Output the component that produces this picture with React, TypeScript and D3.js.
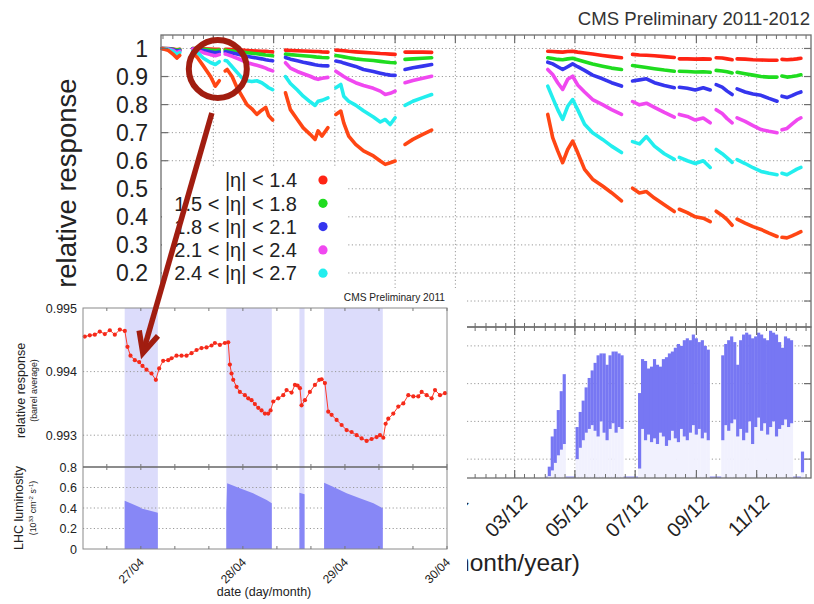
import React from 'react';
import * as d3 from 'd3';

const FONT = "'Liberation Sans', Arial, Helvetica, sans-serif";

// ---------- main chart data (day numbers counted from 2011-01-01) ----------
const segLengths = [5, 6, 12, 9, 11, 4, 12, 6, 5, 4, 6, 5];
const sampleDays = [
  68, 74, 79, 83, 86,
  99, 104, 110, 117, 122, 126,
  132, 134, 139, 144, 149, 154, 159, 164, 169, 173, 176, 180,
  193, 198, 205, 211, 218, 223, 226, 230, 236,
  244, 249, 252, 257, 264, 272, 282, 289, 294, 299, 304,
  314, 322, 332, 341,
  458.5, 463.5, 468.6, 473.6, 478.7, 483.7, 488.8, 495.8, 503.9, 514, 523.1, 533.2,
  544.3, 551.3, 558.4, 566.5, 576.5, 586.6,
  591.7, 599.8, 607.8, 615.9, 623,
  629, 635.1, 640.1, 645.2,
  650.2, 658.3, 666.3, 674.4, 682.5, 690.6,
  695.6, 700.7, 705.7, 710.7, 714.8,
];
const respEta00_14 = [
  1.0, 1.0, 0.998, 0.995, 0.997,
  1.0, 1.0, 0.999, 0.998, 0.997, 0.997,
  0.997, 0.997, 0.996, 0.995, 0.994, 0.993, 0.992, 0.991, 0.99, 0.99, 0.989, 0.988,
  0.994, 0.993, 0.992, 0.991, 0.99, 0.989, 0.989, 0.988, 0.987,
  0.994, 0.993, 0.992, 0.99, 0.988, 0.986, 0.984, 0.982, 0.981, 0.98, 0.979,
  0.987, 0.987, 0.987, 0.986,
  0.99, 0.989, 0.988, 0.987, 0.989, 0.99, 0.987, 0.984, 0.98, 0.975, 0.971, 0.967,
  0.979, 0.977, 0.976, 0.974, 0.971, 0.968,
  0.963, 0.963, 0.962, 0.963, 0.962,
  0.967, 0.966, 0.963, 0.96,
  0.963, 0.962, 0.96, 0.959, 0.958, 0.958,
  0.961, 0.96, 0.961, 0.963, 0.965,
];
const respEta15_18 = [
  1.0, 0.999, 0.997, 0.994, 0.996,
  1.0, 0.999, 0.997, 0.994, 0.993, 0.994,
  0.994, 0.993, 0.991, 0.989, 0.987, 0.985, 0.983, 0.981, 0.979, 0.977, 0.976, 0.974,
  0.98, 0.978, 0.976, 0.974, 0.972, 0.97, 0.969, 0.968, 0.967,
  0.975, 0.972, 0.97, 0.967, 0.963, 0.96, 0.957, 0.954, 0.952, 0.95, 0.949,
  0.961, 0.963, 0.965, 0.967,
  0.967, 0.964, 0.961, 0.96, 0.963, 0.965, 0.96, 0.953, 0.945, 0.937, 0.93, 0.925,
  0.939, 0.936, 0.932, 0.928, 0.923, 0.919,
  0.919, 0.918, 0.916, 0.917, 0.915,
  0.922, 0.92, 0.917, 0.913,
  0.915, 0.91, 0.905, 0.9, 0.898, 0.898,
  0.902, 0.898, 0.9, 0.903, 0.906,
];
const respEta18_21 = [
  1.0, 0.999, 0.996, 0.99, 0.993,
  0.999, 0.997, 0.993, 0.988, 0.985, 0.987,
  0.988, 0.987, 0.984, 0.98, 0.976, 0.972, 0.969, 0.966, 0.963, 0.96, 0.958, 0.956,
  0.968, 0.962, 0.956, 0.951, 0.946, 0.942, 0.94, 0.939, 0.938,
  0.955, 0.952, 0.948, 0.943, 0.936, 0.925, 0.918, 0.912, 0.908, 0.905, 0.904,
  0.925, 0.931, 0.937, 0.943,
  0.951, 0.945, 0.935, 0.925, 0.935, 0.945, 0.935, 0.922, 0.905, 0.892, 0.878, 0.866,
  0.884, 0.888, 0.892, 0.878, 0.868, 0.86,
  0.862, 0.858, 0.852, 0.86, 0.852,
  0.871, 0.862, 0.848, 0.836,
  0.856, 0.845, 0.838, 0.833, 0.822, 0.812,
  0.83, 0.825, 0.832, 0.84, 0.845,
];
const respEta21_24 = [
  1.0, 0.998, 0.994, 0.985, 0.99,
  0.998, 0.993, 0.985, 0.978, 0.974, 0.978,
  0.98, 0.978, 0.972, 0.965, 0.958, 0.95, 0.945, 0.94, 0.935, 0.93, 0.925, 0.92,
  0.949, 0.93, 0.918, 0.91, 0.901, 0.893, 0.89, 0.894, 0.897,
  0.919, 0.907, 0.9, 0.89, 0.878, 0.868, 0.858, 0.848, 0.836, 0.84, 0.848,
  0.878, 0.886, 0.894, 0.901,
  0.925, 0.907, 0.878, 0.854, 0.89, 0.901, 0.87, 0.845, 0.818, 0.8, 0.782, 0.765,
  0.811, 0.799, 0.805, 0.79, 0.772, 0.755,
  0.765, 0.758, 0.745, 0.752, 0.735,
  0.782, 0.768, 0.75, 0.735,
  0.753, 0.74, 0.725, 0.711, 0.705, 0.7,
  0.71, 0.715, 0.73, 0.745, 0.753,
];
const respEta24_27 = [
  1.0, 0.997, 0.99, 0.978, 0.985,
  0.99, 0.985, 0.965, 0.95, 0.943, 0.953,
  0.957, 0.955, 0.935, 0.915, 0.895, 0.885, 0.882, 0.885, 0.878, 0.868, 0.86, 0.853,
  0.9, 0.875, 0.852, 0.83, 0.81, 0.797, 0.812, 0.815, 0.824,
  0.86, 0.872, 0.83, 0.812, 0.798, 0.778, 0.756, 0.738, 0.747, 0.729, 0.753,
  0.797, 0.812, 0.825, 0.836,
  0.866, 0.824, 0.782, 0.747, 0.794, 0.818, 0.782, 0.73, 0.7, 0.676, 0.652, 0.629,
  0.668, 0.66, 0.686, 0.652, 0.625, 0.605,
  0.612, 0.6, 0.59, 0.6, 0.576,
  0.64, 0.625, 0.61, 0.594,
  0.604, 0.59, 0.575, 0.562, 0.555, 0.55,
  0.555, 0.55, 0.56, 0.57, 0.576,
];
const respEta27_30 = [
  1.0, 0.994, 0.98, 0.966, 0.975,
  0.985, 0.967, 0.937, 0.901, 0.866, 0.885,
  0.92, 0.925, 0.9, 0.86, 0.83, 0.8, 0.785, 0.765, 0.78, 0.79, 0.76, 0.745,
  0.842, 0.782, 0.747, 0.717, 0.694, 0.676, 0.706, 0.688, 0.718,
  0.765, 0.777, 0.735, 0.688, 0.658, 0.635, 0.617, 0.599, 0.587, 0.593, 0.599,
  0.658, 0.676, 0.694, 0.709,
  0.765, 0.682, 0.635, 0.593, 0.64, 0.67, 0.629, 0.569, 0.534, 0.51, 0.486, 0.457,
  0.502, 0.485, 0.49, 0.467, 0.443, 0.419,
  0.427, 0.415, 0.4, 0.395, 0.383,
  0.42, 0.405, 0.39, 0.37,
  0.392, 0.378, 0.365, 0.355, 0.342, 0.33,
  0.327, 0.325, 0.332, 0.34, 0.347,
];
const seriesNames = ['|η| < 1.4', '1.5 < |η| < 1.8', '1.8 < |η| < 2.1', '2.1 < |η| < 2.4', '2.4 < |η| < 2.7', '2.7 < |η| < 3.0'];
const seriesColors = ['#ff2414', '#1fdc1f', '#3535ee', '#f048f0', '#22eeee', '#ff4614'];
const seriesValues = [respEta00_14, respEta15_18, respEta18_21, respEta21_24, respEta24_27, respEta27_30];
const responseTicks = [1, 0.9, 0.8, 0.7, 0.6, 0.5, 0.4, 0.3, 0.2, 0.1];
const lumiGrid = [1, 3, 5, 7];

// LHC luminosity 2012 (10^33 cm^-2 s^-1), peak and end-of-fill per sample day
const lumiDays = [
  458.5, 461.5, 464.5, 467.6, 470.6, 473.6,
  486.7, 489.8, 492.8, 495.8, 498.9, 501.9, 504.9, 507.9, 510.9, 514.0, 517.0, 520.0, 523.1, 526.1, 529.1, 532.1,
  549.9, 552.9, 555.9, 558.9, 562.0, 565.0, 568.0, 571.0, 574.0, 577.1, 580.1, 583.1, 586.1, 589.2, 592.2, 595.2, 598.2, 601.3, 604.3, 607.3, 610.3, 613.4, 616.4, 619.4,
  634.1, 637.1, 640.1, 643.1, 646.2, 649.2, 652.2, 655.2, 658.3, 661.3, 664.3, 667.4, 670.4, 673.4, 676.4, 679.5, 682.5, 685.5, 688.5, 691.6, 694.6, 697.6, 700.7, 703.7,
  714.8,
];
const lumiHigh = [
  0.6, 2.2, 2.6, 3.6, 4.6, 5.5,
  2.7, 3.5, 4.1, 4.8, 5.3, 5.7, 6.1, 6.5, 6.6, 6.6, 6.0, 6.5, 6.7, 6.7, 6.6, 6.5,
  4.5, 6.3, 6.2, 5.8, 5.9, 6.3, 6.0, 5.9, 6.3, 6.4, 6.6, 6.7, 6.9, 7.1, 7.0, 7.3, 7.4, 7.3, 7.6, 7.4, 7.2, 7.3, 7.0, 6.8,
  6.5, 7.1, 7.3, 7.5, 7.2, 6.0, 7.3, 7.6, 7.7, 7.6, 7.4, 7.5, 7.7, 7.6, 7.4, 7.3, 7.8, 7.7, 7.6, 7.2, 6.9, 7.5, 7.4, 7.3,
  1.4,
];
const lumiLow = [
  0.1, 0.4, 0.8, 1.2, 1.5, 1.8,
  1.0, 1.6, 2.0, 2.4, 2.6, 2.8, 2.5, 2.2, 3.0, 2.4, 2.0, 2.6, 2.9, 2.4, 2.7, 2.6,
  0.5, 2.6, 2.0, 2.3, 1.9, 2.1, 1.8, 2.4, 2.2, 1.7, 2.0, 2.5, 2.1, 1.9, 2.6, 2.2, 2.0, 2.4, 2.8, 2.3, 2.6, 2.1, 2.4, 2.0,
  2.0, 2.8, 2.5, 2.9, 3.1, 2.2, 2.6, 2.0, 2.4, 3.0, 1.8, 2.7, 3.2, 2.5, 2.9, 2.3, 2.7, 3.0, 2.2, 2.6, 2.8, 3.1, 2.7, 2.9,
  0.3,
];

// ---------- inset data (hours from 27/04 00:00) ----------
const insetHours = [
  -13.18, -12.0, -10.82, -9.65, -8.47, -7.29, -6.12, -4.94, -3.76, -3.14, -2.43, -1.41, -0.39, 0.39, 1.33, 2.51, 3.53,
  4.31, 5.25, 6.43, 7.22, 8.39, 9.57, 10.75, 11.92, 13.1, 14.27, 15.45, 16.63, 17.41, 18.59, 19.76, 20.55,
  20.94, 21.33, 21.73, 22.51, 23.29, 24.47, 25.25, 26.04, 26.82, 27.61, 28.39, 29.18, 29.96, 30.51,
  31.14, 32.31, 33.49, 34.27, 35.45, 36.24, 36.86, 37.41, 37.8, 38.59, 39.76, 40.94, 41.96, 42.51, 43.29,
  44.08, 44.86, 46.04, 47.22, 48.39, 49.57, 50.75, 51.92, 53.1, 54.27, 55.45, 56.24, 57.02,
  57.57, 58.2, 59.37, 60.55, 61.73, 62.9, 64.08, 65.25, 66.04, 67.22, 68.39, 69.18, 70.35, 71.53,
];
const insetResponse = [
  0.99455, 0.99457, 0.99458, 0.99463, 0.99459, 0.99465, 0.99458, 0.99466, 0.99464, 0.99439, 0.99425, 0.99418, 0.99415, 0.99409, 0.99403, 0.99397, 0.99387,
  0.99405, 0.99417, 0.99418, 0.99421, 0.99425, 0.99425, 0.99425, 0.99429, 0.99434, 0.99437, 0.99438, 0.99441, 0.99445, 0.99442, 0.99445, 0.99446,
  0.99411, 0.99397, 0.99387, 0.99376, 0.99368, 0.99363, 0.99358, 0.99355, 0.99349, 0.99343, 0.99339, 0.99334, 0.99334, 0.99339,
  0.99353, 0.99358, 0.99363, 0.99371, 0.99367, 0.99379, 0.99378, 0.99374, 0.99347, 0.99355, 0.99368, 0.99379, 0.99387, 0.99388, 0.99382,
  0.99337, 0.99332, 0.99324, 0.99316, 0.99308, 0.99305, 0.993, 0.99295, 0.99291, 0.99294, 0.99297, 0.993, 0.99296,
  0.99318, 0.99326, 0.99334, 0.99345, 0.9935, 0.99363, 0.99361, 0.99361, 0.99368, 0.99363, 0.99358, 0.99371, 0.99363, 0.99366,
];
const fillStartH = [-3.8, 20.1, 37.3, 43.1];
const fillEndH = [4.0, 30.8, 38.5, 56.9];
const insetLumiLengths = [6, 6, 2, 6];
const insetLumiHours = [-3.8, -2, -0.24, 0.16, 2, 4.0, 20.1, 20.3, 23.3, 26.4, 29.6, 30.8, 37.3, 38.5, 43.1, 45.2, 48.4, 51.5, 54.7, 56.9];
const insetLumiVals = [0.47, 0.44, 0.407, 0.395, 0.375, 0.354, 0.36, 0.641, 0.592, 0.543, 0.478, 0.446, 0.55, 0.535, 0.647, 0.608, 0.543, 0.494, 0.446, 0.397];
const insetRespTicks = [0.995, 0.994, 0.993];
const insetLumiTicks = [0, 0.2, 0.4, 0.6, 0.8];
const insetDayLabels = ['27/04', '28/04', '29/04', '30/04'];
const insetDayHours = [0, 24, 48, 72];

const DAY0 = Date.UTC(2011, 0, 1);
const toDate = (d: number) => new Date(DAY0 + d * 864e5);

export default function App() {
  // main chart scales
  const x = d3.scaleUtc().domain([toDate(67), toDate(725)]).range([161, 811]);
  const y = d3.scaleLinear().domain([0.011, 1.048]).range([326, 35]);
  const yL = d3.scaleLinear().domain([0, 8]).range([478, 327]);
  const L = 161, R = 811, T = 35, B1 = 327, B2 = 478;

  const majorTicks = x.ticks(d3.utcMonth.every(2) as any);
  const minorTicks = d3.utcDay.range(toDate(67), toDate(725)).filter(d => [1, 11, 21].includes(d.getUTCDate()));
  const fmt = d3.utcFormat('%m/%y');

  let pos = 0;
  const segs = segLengths.map(n => { const s = [pos, pos + n]; pos += n; return s; });
  const line = d3.line<[number, number]>().x(d => d[0]).y(d => d[1]);

  // inset scales
  const xi = d3.scaleLinear().domain([-13.6, 72]).range([83, 447]);
  const yi = d3.scaleLinear().domain([0.9925, 0.995]).range([467, 308]);
  const yli = d3.scaleLinear().domain([0, 0.8]).range([549, 467]);
  const iL = 83, iR = 447, iT = 308, iM = 467, iB = 549;
  let p2 = 0;
  const lumiSegs = insetLumiLengths.map(n => { const s = [p2, p2 + n]; p2 += n; return s; });
  const area = d3.area<number>().x(i => xi(insetLumiHours[i])).y0(yli(0)).y1(i => yli(insetLumiVals[i]));
  const insetLine = d3.line<number>().x(i => xi(insetHours[i])).y(i => yi(insetResponse[i]));
  const insetIdx = insetHours.map((_, i) => i);
  const insetMinor = d3.range(-8, 73, 8);

  // annotation anchors (data coordinates)
  const circX = x(toDate(124.5)), circY = y(0.927);
  const arrStart: [number, number] = [x(toDate(118.5)), y(0.77)];
  const arrTip: [number, number] = [xi(0.47), yi(0.99429)];
  const dx = arrStart[0] - arrTip[0], dy = arrStart[1] - arrTip[1];
  const len = Math.hypot(dx, dy);
  const ux = dx / len, uy = dy / len;
  const rot = (a: number) => [ux * Math.cos(a) - uy * Math.sin(a), ux * Math.sin(a) + uy * Math.cos(a)];
  const w1 = rot(0.44), w2 = rot(-0.44);
  const head = `M${arrTip[0] + 23 * w1[0]},${arrTip[1] + 23 * w1[1]}L${arrTip[0]},${arrTip[1]}L${arrTip[0] + 23 * w2[0]},${arrTip[1] + 23 * w2[1]}`;

  const gridStyle = { stroke: '#9a9a9a', strokeWidth: 1, strokeDasharray: '1.2,2.4' };
  const frame = '#6e6e6e';
  const barW = (x(toDate(3)) - x(toDate(0))) + 0.2;

  return (
    <svg width={814} height={604} style={{ display: 'block', position: 'absolute', left: 0, top: 0, background: '#fff' }} fontFamily={FONT}>
      <rect x={0} y={0} width={814} height={604} fill="#fff" />
      {/* ---------------- main chart ---------------- */}
      <text x={810} y={25} textAnchor="end" fontSize={18.6} fill="#333">CMS Preliminary 2011-2012</text>
      {/* grid */}
      {majorTicks.map((d, i) => (
        <line key={'vg' + i} x1={x(d)} x2={x(d)} y1={T} y2={B2} {...gridStyle} />
      ))}
      {responseTicks.map((v, i) => (
        <line key={'hg' + i} x1={L} x2={R} y1={y(v)} y2={y(v)} {...gridStyle} />
      ))}
      {lumiGrid.map((v, i) => (
        <line key={'lg' + i} x1={L} x2={R} y1={yL(v)} y2={yL(v)} {...gridStyle} />
      ))}
      {/* luminosity 2012 */}
      <line x1={x(toDate(456))} x2={x(toDate(718))} y1={yL(0.05)} y2={yL(0.05)} stroke="#8a8af5" strokeWidth={1.2} />
      {lumiDays.map((d, i) => (
        <rect key={'ll' + i} x={x(toDate(d))} width={barW} y={yL(lumiLow[i])} height={yL(0) - yL(lumiLow[i])} fill="#f1f1fe" />
      ))}
      {lumiDays.map((d, i) => (
        <rect key={'lh' + i} x={x(toDate(d))} width={barW} y={yL(lumiHigh[i])} height={yL(lumiLow[i]) - yL(lumiHigh[i])} fill="#7777f3" />
      ))}
      {/* response series */}
      {seriesValues.map((vals, si) => (
        <g key={'s' + si}>
          {segs.map(([a, b], k) => (
            <path key={k}
              d={line(sampleDays.slice(a, b).map((d, j) => [x(toDate(d)), y(vals[a + j])] as [number, number])) || ''}
              fill="none" stroke={seriesColors[si]} strokeWidth={3.6} strokeLinejoin="round" strokeLinecap="round" />
          ))}
        </g>
      ))}
      {/* frames */}
      <rect x={L} y={T} width={R - L} height={B1 - T} fill="none" stroke={frame} strokeWidth={1.3} />
      <rect x={L} y={B1} width={R - L} height={B2 - B1} fill="none" stroke={frame} strokeWidth={1.3} />
      {minorTicks.map((d, i) => (
        <g key={'mt' + i} stroke={frame} strokeWidth={1}>
          <line x1={x(d)} x2={x(d)} y1={T} y2={T + 4} />
          <line x1={x(d)} x2={x(d)} y1={B1 - 4} y2={B1 + 4} />
          <line x1={x(d)} x2={x(d)} y1={B2} y2={B2 - 4} />
        </g>
      ))}
      {majorTicks.map((d, i) => (
        <g key={'Mt' + i} stroke={frame} strokeWidth={1.2}>
          <line x1={x(d)} x2={x(d)} y1={T} y2={T + 8} />
          <line x1={x(d)} x2={x(d)} y1={B1 - 8} y2={B1 + 8} />
          <line x1={x(d)} x2={x(d)} y1={B2} y2={B2 - 8} />
        </g>
      ))}
      {responseTicks.map((v, i) => (
        <g key={'yt' + i} stroke={frame} strokeWidth={1.2}>
          <line x1={L} x2={L + 7} y1={y(v)} y2={y(v)} />
          <line x1={R} x2={R - 7} y1={y(v)} y2={y(v)} />
        </g>
      ))}
      {lumiGrid.map((v, i) => (
        <line key={'lt' + i} x1={R} x2={R - 7} y1={yL(v)} y2={yL(v)} stroke={frame} strokeWidth={1.2} />
      ))}
      {responseTicks.map((v, i) => (
        <text key={'yl' + i} x={148} y={y(v)} dy="0.36em" textAnchor="end" fontSize={23} fill="#222">{String(v)}</text>
      ))}
      <text transform={`translate(76,${y(0.52)}) rotate(-90)`} textAnchor="middle" fontSize={27.5} fill="#222">relative response</text>
      {majorTicks.map((d, i) => (
        <text key={'xl' + i} transform={`translate(${x(d) + 14},${B2 + 25}) rotate(-45)`} textAnchor="end" fontSize={20} fill="#222">{fmt(d)}</text>
      ))}
      <text x={580} y={571} textAnchor="end" fontSize={24.5} fill="#222">date (month/year)</text>

      {/* legend */}
      <rect x={L + 1} y={166} width={185} height={B1 - 166} fill="#fff" />
      {seriesNames.map((n, i) => (
        <g key={'lg' + i}>
          <text x={297} y={180 + i * 23.3} dy="0.36em" textAnchor="end" fontSize={20} fill="#222">{n}</text>
          <circle cx={323} cy={180 + i * 23.3} r={4.6} fill={seriesColors[i]} />
        </g>
      ))}

      {/* highlight circle */}
      <circle cx={circX} cy={circY} r={29} fill="none" stroke="#a11d10" strokeWidth={6} />

      {/* ---------------- inset ---------------- */}
      <rect x={0} y={288} width={467} height={316} fill="#fff" />
      <text x={445} y={301} textAnchor="end" fontSize={10.2} fill="#222">CMS Preliminary 2011</text>
      {fillStartH.map((h, i) => (
        <rect key={'fs' + i} x={xi(h)} width={xi(fillEndH[i]) - xi(h)} y={iT} height={iB - iT} fill="#dcdcfb" />
      ))}
      {insetRespTicks.slice(1).map((v, i) => (
        <line key={'ig' + i} x1={iL} x2={iR} y1={yi(v)} y2={yi(v)} {...gridStyle} />
      ))}
      {insetLumiTicks.slice(1, 4).map((v, i) => (
        <line key={'ilg' + i} x1={iL} x2={iR} y1={yli(v)} y2={yli(v)} {...gridStyle} />
      ))}
      {lumiSegs.map(([a, b], k) => (
        <path key={'la' + k} d={area(d3.range(a, b)) || ''} fill="#8787f6" />
      ))}
      <path d={insetLine(insetIdx) || ''} fill="none" stroke="#ff3a2a" strokeWidth={1} />
      {insetIdx.map(i => (
        <circle key={'ip' + i} cx={xi(insetHours[i])} cy={yi(insetResponse[i])} r={2.1} fill="#f52a1a" />
      ))}
      <rect x={iL} y={iT} width={iR - iL} height={iB - iT} fill="none" stroke="#8a8a8a" strokeWidth={1} />
      <line x1={iL} x2={iR} y1={iM} y2={iM} stroke="#666" strokeWidth={1.4} />
      {insetMinor.map((h, i) => (
        <g key={'im' + i} stroke="#777" strokeWidth={1}>
          <line x1={xi(h)} x2={xi(h)} y1={iB} y2={iB - 3} />
          <line x1={xi(h)} x2={xi(h)} y1={iM - 3} y2={iM + 3} />
          <line x1={xi(h)} x2={xi(h)} y1={iT} y2={iT + 3} />
        </g>
      ))}
      {insetRespTicks.map((v, i) => (
        <text key={'irl' + i} x={77} y={yi(v)} dy="0.36em" textAnchor="end" fontSize={12.5} fill="#222">{String(v)}</text>
      ))}
      {insetLumiTicks.map((v, i) => (
        <text key={'ill' + i} x={77} y={yli(v)} dy="0.36em" textAnchor="end" fontSize={12.5} fill="#222">{String(v)}</text>
      ))}
      {insetDayLabels.map((s, i) => (
        <text key={'idl' + i} transform={`translate(${xi(insetDayHours[i]) + 4},${iB + 14}) rotate(-45)`} textAnchor="end" fontSize={12} fill="#222">{s}</text>
      ))}
      <text x={264} y={596} textAnchor="middle" fontSize={12.5} fill="#222">date (day/month)</text>
      <text transform={`translate(25,${(iT + iM) / 2 + 3}) rotate(-90)`} textAnchor="middle" fontSize={12.5} fill="#222">relative response</text>
      <text transform={`translate(37,${(iT + iM) / 2 + 3}) rotate(-90)`} textAnchor="middle" fontSize={8.8} fill="#222">(barrel average)</text>
      <text transform={`translate(23,${(iM + iB) / 2}) rotate(-90)`} textAnchor="middle" fontSize={12.5} fill="#222">LHC luminosity</text>
      <text transform={`translate(36,${(iM + iB) / 2}) rotate(-90)`} textAnchor="middle" fontSize={8.8} fill="#222">
        (10<tspan dy={-3.5} fontSize={6.2}>33</tspan><tspan dy={3.5}> cm</tspan><tspan dy={-3.5} fontSize={6.2}>-2</tspan><tspan dy={3.5}> s</tspan><tspan dy={-3.5} fontSize={6.2}>-1</tspan><tspan dy={3.5}>)</tspan>
      </text>

      {/* arrow */}
      <line x1={arrStart[0]} y1={arrStart[1]} x2={arrTip[0] + ux * 3} y2={arrTip[1] + uy * 3} stroke="#a11d10" strokeWidth={5.5} />
      <path d={head} fill="none" stroke="#a11d10" strokeWidth={5.5} strokeLinejoin="miter" />
    </svg>
  );
}
